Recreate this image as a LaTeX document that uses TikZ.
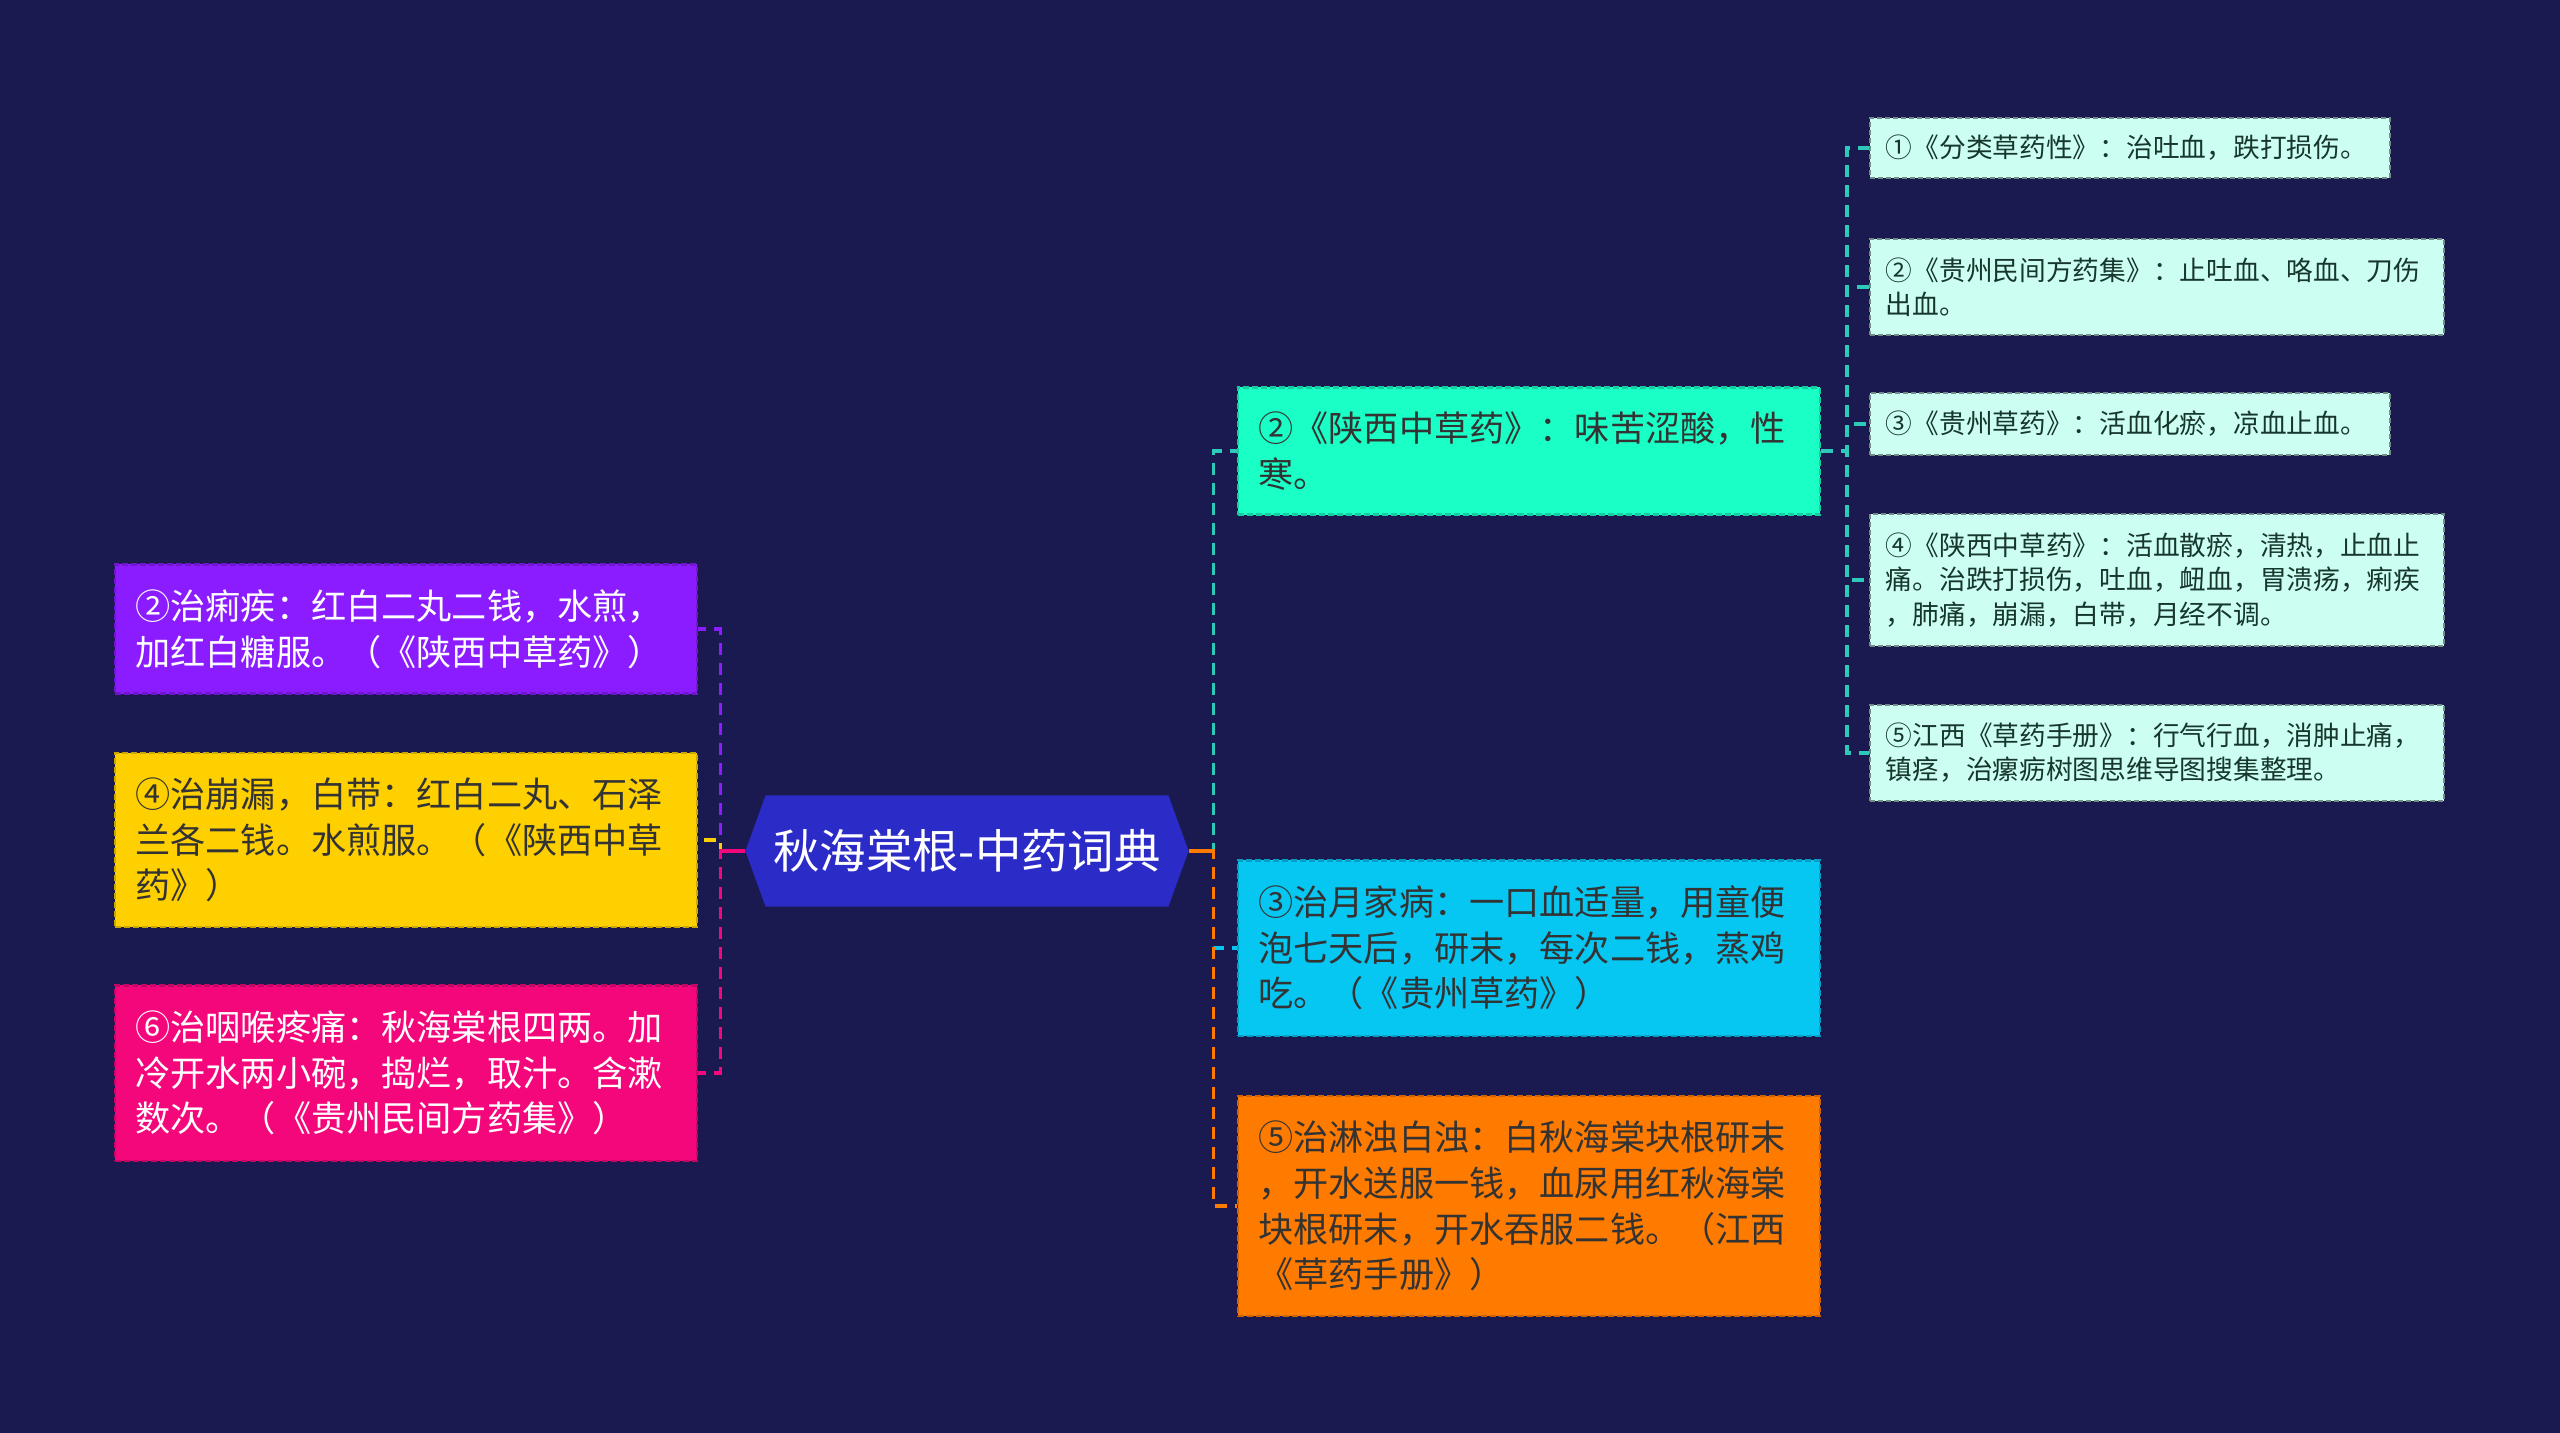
\documentclass[tikz,border=0pt]{standalone}
\usepackage{fontspec}
\newfontfamily\cjk{Noto Sans CJK SC}
\usepackage{tikz}
\usetikzlibrary{shapes.symbols}
\definecolor{my_navy}{HTML}{1A1950}
\definecolor{my_royal}{HTML}{2B2BC8}
\definecolor{my_purple}{HTML}{8B1CFF}
\definecolor{my_yellow}{HTML}{FFD000}
\definecolor{my_pink}{HTML}{F5077C}
\definecolor{my_green}{HTML}{19FFC6}
\definecolor{my_cyan}{HTML}{06C6F2}
\definecolor{my_orange}{HTML}{FF7B00}
\definecolor{my_mint}{HTML}{CCFFF2}
\definecolor{my_teal}{HTML}{2EC9B8}
\definecolor{my_ink}{HTML}{333333}
\definecolor{my_mintink}{HTML}{17362E}

\begin{document}
\begin{tikzpicture}[
    x=0.01cm, y=-0.01cm,
    topic/.style={signal, signal to=west and east, signal pointer angle=140,
        fill=my_royal, text=white, inner sep=0pt,
        minimum width=4.43cm, minimum height=1.11cm,
        font=\cjk\fontsize{13.2}{16}\selectfont},
    branch/.style={draw=#1!80!black, fill=#1, line width=0.6pt,
        dash pattern=on 0.06cm off 0.03cm,
        text width=5.41cm, align=left, inner xsep=0.2cm, inner ysep=0pt,
        font=\cjk\fontsize{10}{13}\selectfont},
    leaf/.style={draw=my_mint!55!black, fill=my_mint, text=my_mintink,
        line width=0.5pt, dash pattern=on 0.05cm off 0.03cm,
        text width=#1, align=left, inner xsep=0.16cm, inner ysep=0pt,
        font=\cjk\fontsize{7.6}{9.7}\selectfont},
    link/.style={draw=#1, line width=1pt, dash pattern=on 0.12cm off 0.08cm}
]

%% ---- Hintergrund ----
\fill[my_navy] (0,0) rectangle (2560,1433);

%% ---- Zentrum ----
\node[topic] (root) at (967,851) {秋海棠根-中药词典};

%% ---- linke Aeste ----
\node[branch=my_purple, text=white, minimum height=1.29cm] (left_liji) at (406,629)
    {②治痢疾：红白二丸二钱，水煎，\\加红白糖服。（《陕西中草药》）};
\node[branch=my_yellow, text=my_ink, minimum height=1.74cm] (left_benglou) at (406,840)
    {④治崩漏，白带：红白二丸、石泽\\兰各二钱。水煎服。（《陕西中草\\药》）};
\node[branch=my_pink, text=white, minimum height=1.75cm] (left_yanhou) at (406,1073)
    {⑥治咽喉疼痛：秋海棠根四两。加\\冷开水两小碗，捣烂，取汁。含漱\\数次。（《贵州民间方药集》）};

%% ---- rechte Aeste ----
\node[branch=my_green, text=my_ink, minimum height=1.27cm] (mid_shaanxi) at (1529,451)
    {②《陕西中草药》：味苦涩酸，性\\寒。};
\node[branch=my_cyan, text=my_ink, minimum height=1.75cm] (mid_yuejia) at (1529,948)
    {③治月家病：一口血适量，用童便\\泡七天后，研末，每次二钱，蒸鸡\\吃。（《贵州草药》）};
\node[branch=my_orange, text=my_ink, minimum height=2.2cm] (mid_linzhuo) at (1529,1206)
    {⑤治淋浊白浊：白秋海棠块根研末\\，开水送服一钱，血尿用红秋海棠\\块根研末，开水吞服二钱。（江西\\《草药手册》）};

%% ---- Quellen (ganz rechts) ----
\node[leaf=4.88cm, anchor=west, minimum height=0.6cm] (src_fenlei) at (1869,148)
    {①《分类草药性》：治吐血，跌打损伤。};
\node[leaf=5.42cm, anchor=west, minimum height=0.96cm] (src_minjian) at (1869,287)
    {②《贵州民间方药集》：止吐血、咯血、刀伤\\出血。};
\node[leaf=4.88cm, anchor=west, minimum height=0.62cm] (src_guizhou) at (1869,424)
    {③《贵州草药》：活血化瘀，凉血止血。};
\node[leaf=5.42cm, anchor=west, minimum height=1.32cm] (src_shaanxi) at (1869,580)
    {④《陕西中草药》：活血散瘀，清热，止血止\\痛。治跌打损伤，吐血，衄血，胃溃疡，痢疾\\，肺痛，崩漏，白带，月经不调。};
\node[leaf=5.42cm, anchor=west, minimum height=0.96cm] (src_jiangxi) at (1869,753)
    {⑤江西《草药手册》：行气行血，消肿止痛，\\镇痉，治瘰疬树图思维导图搜集整理。};

%% ---- Verbindungen ----
\coordinate (ltrunk) at ([xshift=-0.24cm]root.west);
\coordinate (rtrunk) at ([xshift=0.24cm]root.east);
\coordinate (strunk) at ([xshift=0.26cm]mid_shaanxi.east);

\draw[link=my_purple] (root.west) -- (ltrunk) |- (left_liji.east);
\draw[link=my_yellow] (root.west) -- (ltrunk) |- (left_benglou.east);
\draw[link=my_pink]   (root.west) -- (ltrunk) |- (left_yanhou.east);
\draw[my_pink, line width=1pt] (root.west) -- (ltrunk);

\draw[link=my_teal]   (root.east) -- (rtrunk) |- (mid_shaanxi.west);
\draw[link=my_cyan]   (root.east) -- (rtrunk) |- (mid_yuejia.west);
\draw[link=my_orange] (root.east) -- (rtrunk) |- (mid_linzhuo.west);
\draw[my_orange, line width=1pt] (root.east) -- (rtrunk);

\foreach \src in {src_fenlei, src_minjian, src_guizhou, src_shaanxi, src_jiangxi} {
    \draw[link=my_teal] (mid_shaanxi.east) -- (strunk) |- (\src.west);
}

\end{tikzpicture}
\end{document}
